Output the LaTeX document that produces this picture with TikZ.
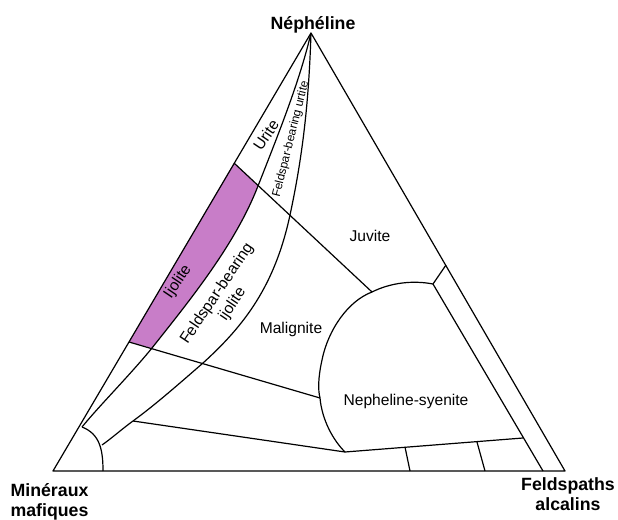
\documentclass[tikz,border=0pt]{standalone}
\usepackage{fontspec}
\setmainfont{Liberation Sans}
\usepackage{tikz}
\definecolor{ijolitepink}{RGB}{200,125,200}

\begin{document}
\begin{tikzpicture}[x=0.75pt, y=-0.75pt, line width=0.9pt, line join=round,
    corner/.style={font=\bfseries\fontsize{13.3}{15}\selectfont, inner sep=0pt},
    field/.style={font=\fontsize{11.7}{14}\selectfont, inner sep=0pt, align=center}]
    \useasboundingbox (0,0) rectangle (618,520);

    % corners of the triangle
    \coordinate (nep) at (311,33);
    \coordinate (maf) at (53,471);
    \coordinate (fel) at (565,471);
    % knots of the two curves from the apex
    \coordinate (a1) at (258,186);
    \coordinate (a2) at (152,348);
    \coordinate (a3) at (82,427);
    \coordinate (b1) at (290,215);
    \coordinate (b2) at (203,363);
    \coordinate (b3) at (133,421);
    \coordinate (b4) at (102,445);
    \coordinate (ijtl) at (234,163);
    \coordinate (ijbl) at (129,342);
    % nepheline-syenite field
    \coordinate (s1) at (433,284);
    \coordinate (s2) at (372,292);
    \coordinate (s3) at (320,398);
    \coordinate (s4) at (345,452);
    \coordinate (r1) at (446,265);
    \coordinate (r2) at (543,471);
    \coordinate (r3) at (523,438);
    \coordinate (t1) at (405,447);
    \coordinate (t1b) at (410,471);
    \coordinate (t2) at (477,442);
    \coordinate (t2b) at (485,471);
    \coordinate (m1) at (103,471);

    \fill[ijolitepink] (ijtl) -- (a1) .. controls (235,245) and (190,300) .. (a2) -- (ijbl) -- cycle;

    \draw (nep) -- (maf) -- (fel) -- cycle;
    \draw (nep) .. controls (300,80) and (280,130) .. (a1)
        .. controls (235,245) and (190,300) .. (a2)
        .. controls (130,375) and (100,405) .. (a3);
    \draw (nep) .. controls (309,95) and (304,150) .. (b1)
        .. controls (275,285) and (245,325) .. (b2)
        .. controls (180,383) and (155,405) .. (b3)
        .. controls (122,429) and (112,438) .. (b4);
    \draw (a3) .. controls (100,434) and (103,450) .. (m1);
    \draw (ijtl) -- (s2);
    \draw (ijbl) -- (s3);
    \draw (b3) -- (s4);
    \draw (s1) .. controls (412,280) and (390,283) .. (s2)
        .. controls (348,301) and (328,330) .. (322,360)
        .. controls (318,378) and (318,390) .. (s3)
        .. controls (322,420) and (333,440) .. (s4);
    \draw (s4) -- (r3);
    \draw (s1) -- (r1);
    \draw (s1) -- (r2);
    \draw (t1) -- (t1b);
    \draw (t2) -- (t2b);

    \node[corner, anchor=base] (nlab) at (313,30) {Néphéline};
    \node[corner, anchor=north west, align=left] (mlab) at (10,483) {Minéraux\\mafiques};
    \node[corner, anchor=north, align=center] (flab) at (568,477) {Feldspaths\\alcalins};

    \node[field, rotate=56] (urite) at (266,135) {Urite};
    \node[field, rotate=76, font=\fontsize{8.9}{10}\selectfont] (furt) at (291,139) {Feldspar-bearing urtite};
    \node[field, rotate=56] (ijol) at (178,282) {Ijolite};
    \node[field, rotate=56] (fijol) at (225,299) {Feldspar-bearing\\ijolite};
    \node[field] (malig) at (291,329) {Malignite};
    \node[field] (juv) at (370,236) {Juvite};
    \node[field] (nsyen) at (406,401) {Nepheline-syenite};
\end{tikzpicture}
\end{document}
